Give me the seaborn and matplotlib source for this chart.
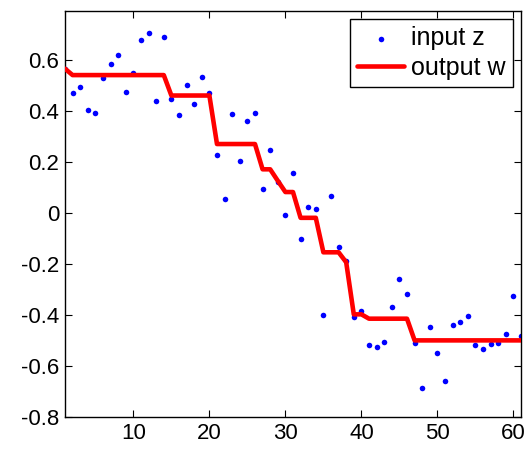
# plot.py - input z (points) vs output w (stepped red line)
import numpy as np
import pandas as pd
import matplotlib
matplotlib.use("Agg")
import matplotlib.pyplot as plt
import seaborn as sns

# === data ===
sample_idx = list(range(1, 62))

input_z = [0.564, 0.468, 0.493, 0.404, 0.390, 0.528, 0.581, 0.617, 0.474, 0.546,
           0.677, 0.703, 0.436, 0.690, 0.444, 0.382, 0.499, 0.425, 0.533, 0.467,
           0.226, 0.055, 0.386, 0.201, 0.360, 0.389, 0.092, 0.245, 0.120, -0.008,
           0.157, -0.102, 0.024, 0.013, -0.399, 0.064, -0.133, -0.190, -0.408, -0.383,
           -0.518, -0.526, -0.507, -0.371, -0.259, -0.318, -0.509, -0.685, -0.449, -0.551,
           -0.660, -0.440, -0.429, -0.404, -0.518, -0.534, -0.514, -0.512, -0.474, -0.328,
           -0.484]

output_w = [0.564] + [0.539] * 13 + [0.459] * 6 + [0.269] * 6 + [0.170, 0.170, 0.125,
            0.081, 0.081] + [-0.020] * 3 + [-0.155] * 3 + [-0.194, -0.398, -0.398] \
           + [-0.415] * 6 + [-0.500] * 15

x_ticks = [10, 20, 30, 40, 50, 60]
y_ticks = [-0.8, -0.6, -0.4, -0.2, 0, 0.2, 0.4, 0.6]

df = pd.DataFrame({"n": sample_idx, "z": input_z, "w": output_w})

# === style ===
sns.set_style("ticks")
plt.rcParams['font.family'] = ['Liberation Sans', 'DejaVu Sans']
plt.rcParams['xtick.direction'] = 'in'
plt.rcParams['ytick.direction'] = 'in'
plt.rcParams['xtick.top'] = True
plt.rcParams['ytick.right'] = True
plt.rcParams['text.color'] = 'black'
plt.rcParams['xtick.color'] = 'black'
plt.rcParams['ytick.color'] = 'black'
plt.rcParams['axes.edgecolor'] = 'black'

fig = plt.figure(figsize=(5.27, 4.49), dpi=100)
ax = fig.add_axes([0.1233, 0.0713, 0.8653, 0.9042])

sns.scatterplot(data=df, x="n", y="z", ax=ax, color="#0000ff", s=16,
                linewidth=0, label="input z", zorder=2)
sns.lineplot(data=df, x="n", y="w", ax=ax, color="#ff0000", linewidth=3.3,
             label="output w", zorder=3)

ax.set_xlim(1, 61)
ax.set_ylim(-0.8, 0.79)
ax.set_xticks(x_ticks)
ax.set_yticks(y_ticks)
ax.set_yticklabels([f"{v:g}" if v != 0 else "0" for v in y_ticks])
ax.set_xlabel("")
ax.set_ylabel("")
ax.tick_params(labelsize=16, length=5, width=0.8, color="black",
               labelcolor="black", pad=4)
for sp in ax.spines.values():
    sp.set_linewidth(1.0)
    sp.set_color("black")

leg = ax.legend(loc="upper right", fontsize=18, frameon=True, fancybox=False,
                edgecolor="black", framealpha=1, borderaxespad=0.33,
                handlelength=1.85, handletextpad=0.3, borderpad=0.28,
                labelspacing=0.22)
leg.get_frame().set_linewidth(1.0)
for t in leg.get_texts():
    t.set_color("black")

fig.savefig("out.png", dpi=100)
plt.close(fig)
